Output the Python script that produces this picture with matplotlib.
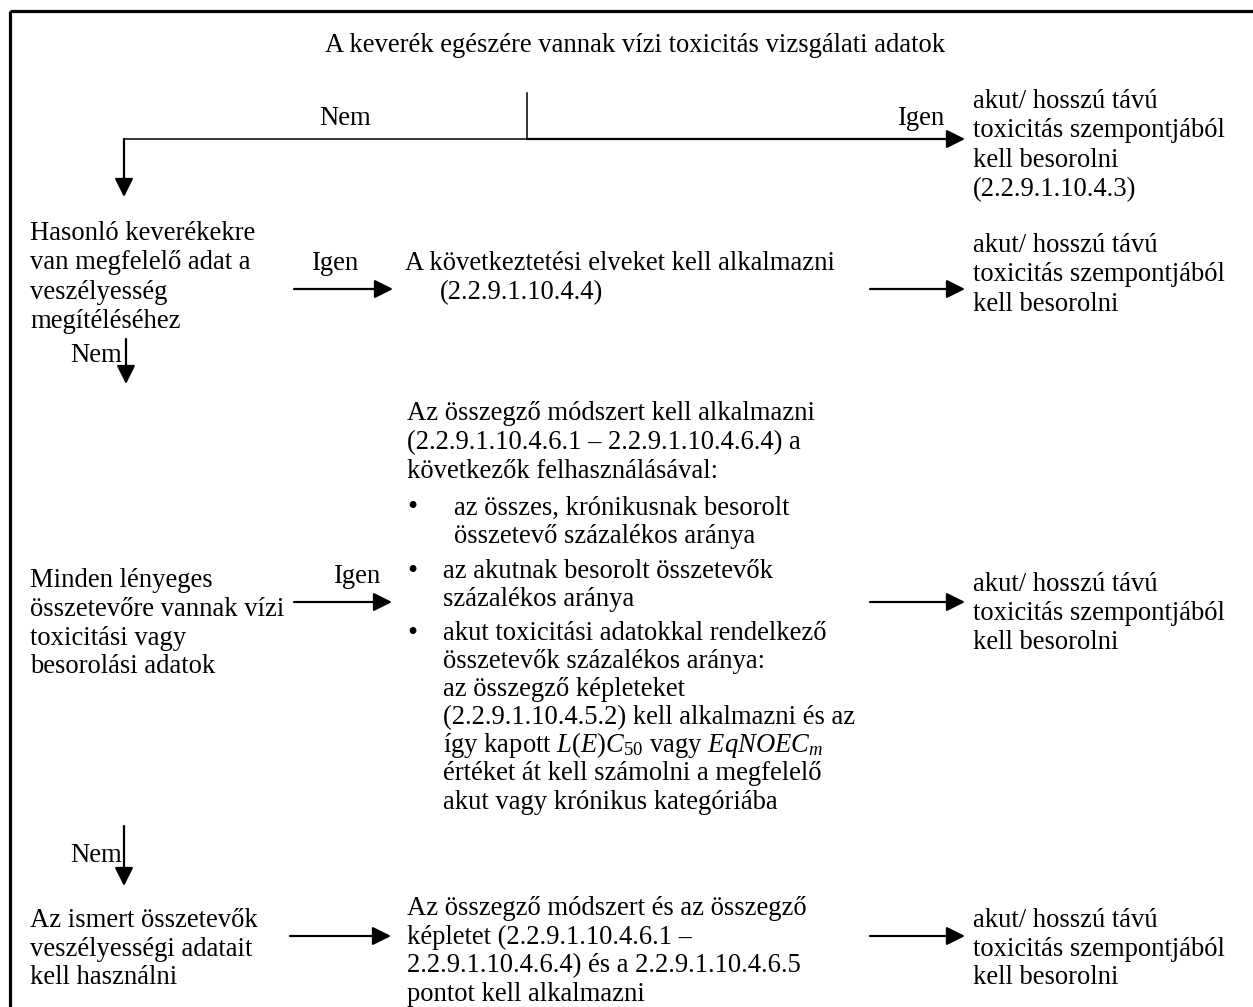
import matplotlib.pyplot as plt

plt.rcParams['font.family'] = 'Liberation Serif'
plt.rcParams['mathtext.fontset'] = 'custom'
plt.rcParams['mathtext.rm'] = 'Liberation Serif'
plt.rcParams['mathtext.it'] = 'Liberation Serif:italic'

# texts of the flowchart
title = "A keverék egészére vannak vízi toxicitás vizsgálati adatok"
yes_label = "Igen"
no_label = "Nem"
result = ["akut/ hosszú távú", "toxicitás szempontjából", "kell besorolni"]
result_top = result + ["(2.2.9.1.10.4.3)"]
q1 = ["Hasonló keverékekre", "van megfelelő adat a", "veszélyesség", "megítéléséhez"]
a1 = ["A következtetési elveket kell alkalmazni", "(2.2.9.1.10.4.4)"]
q2 = ["Minden lényeges", "összetevőre vannak vízi", "toxicitási vagy", "besorolási adatok"]
a2_intro = ["Az összegző módszert kell alkalmazni",
            "(2.2.9.1.10.4.6.1 – 2.2.9.1.10.4.6.4) a",
            "következők felhasználásával:"]
a2_bullet1 = ["az összes, krónikusnak besorolt", "összetevő százalékos aránya"]
a2_bullet2 = ["az akutnak besorolt összetevők", "százalékos aránya"]
a2_bullet3 = ["akut toxicitási adatokkal rendelkező",
              "összetevők százalékos aránya:",
              "az összegző képleteket",
              "(2.2.9.1.10.4.5.2) kell alkalmazni és az",
              r"így kapott $\mathit{L(E)C_{50}}$ vagy $\mathit{EqNOEC_m}$",
              "értéket át kell számolni a megfelelő",
              "akut vagy krónikus kategóriába"]
q3 = ["Az ismert összetevők", "veszélyességi adatait", "kell használni"]
a3 = ["Az összegző módszert és az összegző",
      "képletet (2.2.9.1.10.4.6.1 –",
      "2.2.9.1.10.4.6.4) és a 2.2.9.1.10.4.6.5",
      "pontot kell alkalmazni"]

FS = 19.2
LH = 28.8

fig = plt.figure(figsize=(12.53, 10.07), dpi=100)
ax = fig.add_axes([0, 0, 1, 1])
ax.set_xlim(0, 1253)
ax.set_ylim(1007, 0)
ax.axis('off')


def lines(x, y0, rows, step=LH):
    for i, s in enumerate(rows):
        ax.text(x, y0 + i * step, s, fontsize=FS, va='baseline', ha='left')


def bullet(y):
    ax.text(412, y + 1, '•', fontsize=21, va='baseline', ha='center')


def arrow(x0, y0, x1, y1):
    ax.annotate('', xy=(x1, y1), xytext=(x0, y0),
                arrowprops=dict(arrowstyle='-|>', color='black', lw=1.6,
                                mutation_scale=28, shrinkA=0, shrinkB=0))


# frame (top and left edge)
ax.plot([10, 1253], [11, 11], color='black', lw=2.3, solid_capstyle='butt')
ax.plot([10, 10], [11, 1007], color='black', lw=2.3, solid_capstyle='butt')

# top question
ax.text(325, 52, title, fontsize=FS, va='baseline')
ax.plot([527, 527], [93, 139], color='black', lw=1.1)
ax.plot([124, 527], [139, 139], color='black', lw=1.1)
arrow(527, 139, 965, 139)
arrow(124, 139, 124, 197)
ax.text(319, 125, no_label, fontsize=FS, va='baseline')
ax.text(898, 125, yes_label, fontsize=FS, va='baseline')
lines(973, 108, result_top, 29.3)

# row 2
lines(30, 240, q1, 29.3)
ax.text(312, 270, yes_label, fontsize=FS, va='baseline')
arrow(294, 289, 393, 289)
ax.text(405, 270, a1[0], fontsize=FS, va='baseline')
ax.text(440, 299, a1[1], fontsize=FS, va='baseline')
arrow(870, 289, 965, 289)
lines(973, 252, result, 29.3)
ax.text(70, 362, no_label, fontsize=FS, va='baseline')
arrow(126, 339, 126, 384)

# row 3
lines(407, 420.5, a2_intro)
bullet(514.5)
lines(454, 514.5, a2_bullet1)
bullet(577.5)
lines(443, 577.5, a2_bullet2)
bullet(639.5)
lines(443, 639.5, a2_bullet3, 28.2)
lines(30, 587, q2)
ax.text(334, 583, yes_label, fontsize=FS, va='baseline')
arrow(294, 602, 392, 602)
arrow(870, 602, 965, 602)
lines(973, 591, result)
ax.text(70, 862, no_label, fontsize=FS, va='baseline')
arrow(124, 826, 124, 886)

# row 4
lines(30, 927, q3, 28.6)
arrow(290, 936, 391, 936)
lines(407, 915, a3, 28.6)
arrow(870, 936, 965, 936)
lines(973, 927, result, 28.6)

fig.savefig('out.png', dpi=100)
